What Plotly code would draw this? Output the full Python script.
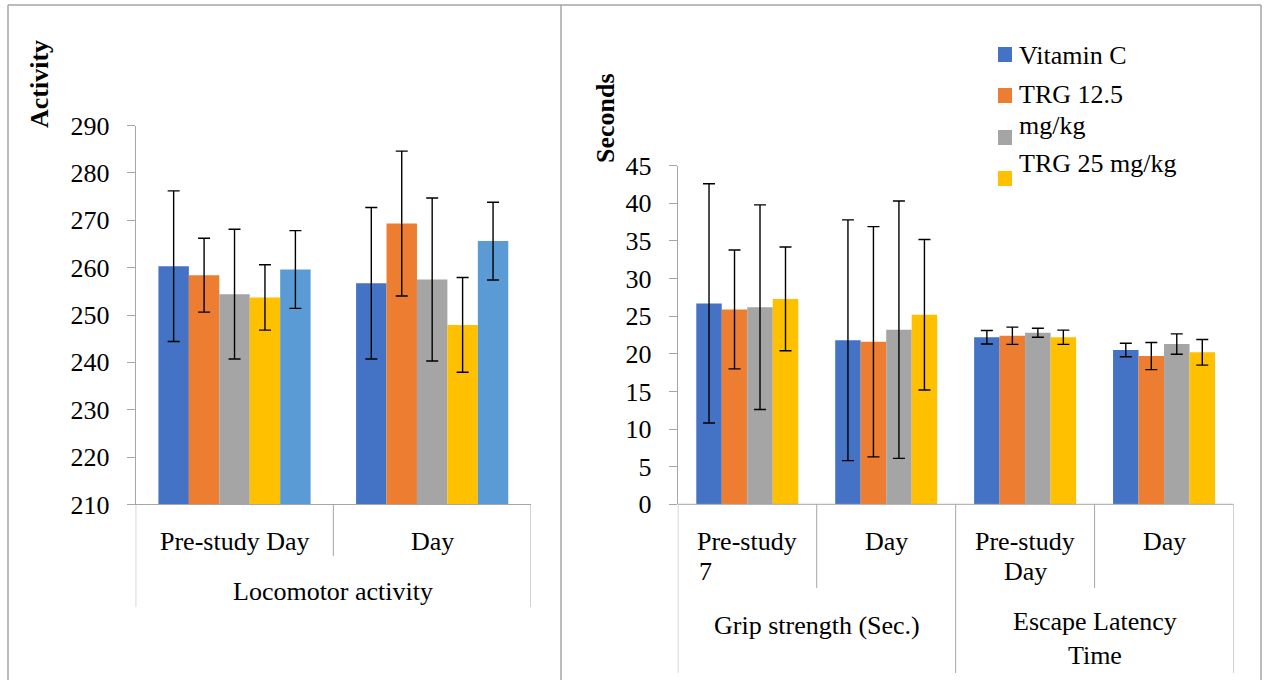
import plotly.graph_objects as go

# ---------------- data ----------------
# Left chart: Locomotor activity
loco_series = ["Vitamin C", "TRG 12.5 mg/kg", "Series 3", "TRG 25 mg/kg", "Series 5"]
loco_days = ["Pre-study Day", "Day"]
loco_group = "Locomotor activity"
loco_mean = [
    [260.3, 256.7],
    [258.4, 269.3],
    [254.4, 257.5],
    [253.7, 247.9],
    [259.6, 265.6],
]
loco_err = [
    [15.9, 16.0],
    [7.8, 15.3],
    [13.7, 17.2],
    [6.9, 10.0],
    [8.2, 8.2],
]
loco_ticks = [210, 220, 230, 240, 250, 260, 270, 280, 290]
loco_ytitle = "Activity"

# Right chart: Grip strength / Escape latency
sec_series = ["Vitamin C", "TRG 12.5 mg/kg", "Series 3", "TRG 25 mg/kg"]
sec_day_labels = [["Pre-study", "7"], ["Day"], ["Pre-study", "Day"], ["Day"]]
sec_groups = [["Grip strength (Sec.)"], ["Escape Latency", "Time"]]
sec_mean = [
    [26.7, 21.8, 22.2, 20.5],
    [25.9, 21.6, 22.4, 19.7],
    [26.2, 23.2, 22.8, 21.3],
    [27.3, 25.2, 22.2, 20.2],
]
sec_err = [
    [15.9, 16.0, 0.9, 0.9],
    [7.9, 15.3, 1.15, 1.8],
    [13.6, 17.1, 0.6, 1.35],
    [6.9, 10.0, 0.95, 1.7],
]
sec_ticks = [0, 5, 10, 15, 20, 25, 30, 35, 40, 45]
sec_ytitle = "Seconds"

legend_lines = ["Vitamin C", "TRG 12.5", "mg/kg", "TRG 25 mg/kg"]

colors = ["#4472C4", "#ED7D31", "#A5A5A5", "#FFC000", "#5B9BD5"]

# ---------------- layout helpers ----------------
W, H = 1264, 680
FONT = "Liberation Serif, Times New Roman, serif"
AX = "#a6a6a6"


def fx(px):
    return px / W


def fy(py):
    return 1 - py / H


fig = go.Figure()

# left bars
n_left = len(loco_series)
bw_l = 0.77 / n_left
for i, name in enumerate(loco_series):
    fig.add_trace(go.Bar(
        x=list(range(len(loco_days))), y=loco_mean[i], name=name,
        marker=dict(color=colors[i], line=dict(width=0)),
        width=bw_l, offset=-0.385 + i * bw_l,
        error_y=dict(type="data", array=loco_err[i], color="black", thickness=1.4, width=6),
        xaxis="x", yaxis="y", showlegend=False,
    ))

# right bars
n_right = len(sec_series)
bw_r = 0.734 / n_right
for i, name in enumerate(sec_series):
    fig.add_trace(go.Bar(
        x=list(range(len(sec_day_labels))), y=sec_mean[i], name=name,
        marker=dict(color=colors[i], line=dict(width=0)),
        width=bw_r, offset=-0.367 + i * bw_r,
        error_y=dict(type="data", array=sec_err[i], color="black", thickness=1.4, width=6),
        xaxis="x2", yaxis="y2", showlegend=False,
    ))

L_X0, L_X1, L_Y0, L_Y1 = 135.7, 531.0, 504.5, 125.5
R_X0, R_X1, R_Y0, R_Y1 = 677.8, 1233.5, 504.3, 165.7

yaxis_common = dict(
    showline=True, linecolor=AX, linewidth=1, ticks="outside", ticklen=8,
    tickcolor=AX, tickwidth=1, showgrid=False, zeroline=False, automargin=False,
    tickfont=dict(family=FONT, size=26, color="black"), ticklabelstandoff=12,
)
xaxis_common = dict(showticklabels=False, showgrid=False, zeroline=False, showline=False,
                    ticks="", automargin=False)

fig.update_layout(
    template="none",
    width=W, height=H, margin=dict(l=0, r=0, t=0, b=0, pad=0, autoexpand=False),
    autosize=False,
    paper_bgcolor="white", plot_bgcolor="white", barmode="overlay",
    showlegend=False,
    xaxis=dict(domain=[fx(L_X0), fx(L_X1)], range=[-0.5, len(loco_days) - 0.5],
               anchor="y", **xaxis_common),
    yaxis=dict(domain=[fy(L_Y0), fy(L_Y1)], range=[loco_ticks[0], loco_ticks[-1]],
               tickvals=loco_ticks, anchor="x", **yaxis_common),
    xaxis2=dict(domain=[fx(R_X0), fx(R_X1)], range=[-0.5, len(sec_day_labels) - 0.5],
                anchor="y2", **xaxis_common),
    yaxis2=dict(domain=[fy(R_Y0), fy(R_Y1)], range=[sec_ticks[0], sec_ticks[-1]],
                tickvals=sec_ticks, anchor="x2", **yaxis_common),
)

shapes = []
annots = []
tf = dict(family=FONT, size=26, color="black")

# panel borders
bc = "#a6a6a6"
shapes.append(dict(type="line", xref="paper", yref="paper", x0=fx(8), x1=fx(1261),
                   y0=fy(5), y1=fy(5), line=dict(color=bc, width=1.5)))
for px in (8, 561, 1261):
    shapes.append(dict(type="line", xref="paper", yref="paper", x0=fx(px), x1=fx(px),
                       y0=fy(5), y1=0, line=dict(color=bc, width=1.5)))

# left x-axis line + dividers
shapes.append(dict(type="line", xref="paper", yref="paper", x0=fx(L_X0), x1=fx(L_X1),
                   y0=fy(L_Y0), y1=fy(L_Y0), line=dict(color=AX, width=1)))
for k in range(len(loco_days) + 1):
    outer = k in (0, len(loco_days))
    shapes.append(dict(type="line", xref="x", yref="paper", x0=k - 0.5, x1=k - 0.5,
                       y0=fy(L_Y0), y1=fy(607 if outer else 556),
                       line=dict(color=AX, width=1)))
for k, lab in enumerate(loco_days):
    annots.append(dict(xref="x", yref="paper", x=k, y=fy(541), text=lab, showarrow=False,
                       xanchor="center", yanchor="middle", font=tf))
annots.append(dict(xref="x", yref="paper", x=(len(loco_days) - 1) / 2, y=fy(591),
                   text=loco_group, showarrow=False, xanchor="center", yanchor="middle", font=tf))

# right x-axis line + dividers
shapes.append(dict(type="line", xref="paper", yref="paper", x0=fx(R_X0), x1=fx(R_X1),
                   y0=fy(R_Y0), y1=fy(R_Y0), line=dict(color=AX, width=1)))
n_per_group = len(sec_day_labels) // len(sec_groups)
for k in range(len(sec_day_labels) + 1):
    outer = k % n_per_group == 0
    shapes.append(dict(type="line", xref="x2", yref="paper", x0=k - 0.5, x1=k - 0.5,
                       y0=fy(R_Y0), y1=fy(673 if outer else 588),
                       line=dict(color=AX, width=1)))
for k, lines in enumerate(sec_day_labels):
    annots.append(dict(xref="x2", yref="paper", x=k, y=fy(541), text=lines[0],
                       showarrow=False, xanchor="center", yanchor="middle", font=tf))
    if len(lines) > 1:
        if k == 0:
            # second line left-aligned under the first one
            annots.append(dict(xref="x2", yref="paper", x=k - 0.36, y=fy(571), text=lines[1],
                               showarrow=False, xanchor="left", yanchor="middle", font=tf))
        else:
            annots.append(dict(xref="x2", yref="paper", x=k, y=fy(571), text=lines[1],
                               showarrow=False, xanchor="center", yanchor="middle", font=tf))
for g, lines in enumerate(sec_groups):
    cx = g * n_per_group + (n_per_group - 1) / 2
    yc = 625 + 13.5 * (len(lines) - 1)
    annots.append(dict(xref="x2", yref="paper", x=cx, y=fy(yc), text="<br>".join(lines),
                       showarrow=False, xanchor="center", yanchor="middle", font=tf,
                       align="center"))

# axis titles
annots.append(dict(xref="paper", yref="paper", x=fx(39), y=fy(84), text="<b>%s</b>" % loco_ytitle,
                   textangle=-90, showarrow=False, xanchor="center", yanchor="middle", font=tf))
annots.append(dict(xref="paper", yref="paper", x=fx(605), y=fy(118), text="<b>%s</b>" % sec_ytitle,
                   textangle=-90, showarrow=False, xanchor="center", yanchor="middle", font=tf))

# legend (manual)
marker_tops = [47, 88, 130, 171]
text_mid = [55, 95, 125, 163]
for i in range(4):
    shapes.append(dict(type="rect", xref="paper", yref="paper", x0=fx(998), x1=fx(1012),
                       y0=fy(marker_tops[i] + 15), y1=fy(marker_tops[i]),
                       fillcolor=colors[i], line=dict(width=0)))
    annots.append(dict(xref="paper", yref="paper", x=fx(1017), y=fy(text_mid[i]),
                       text=legend_lines[i], showarrow=False, xanchor="left", yanchor="middle",
                       font=tf))

fig.update_layout(shapes=shapes, annotations=annots)
fig.write_html("out.html")
